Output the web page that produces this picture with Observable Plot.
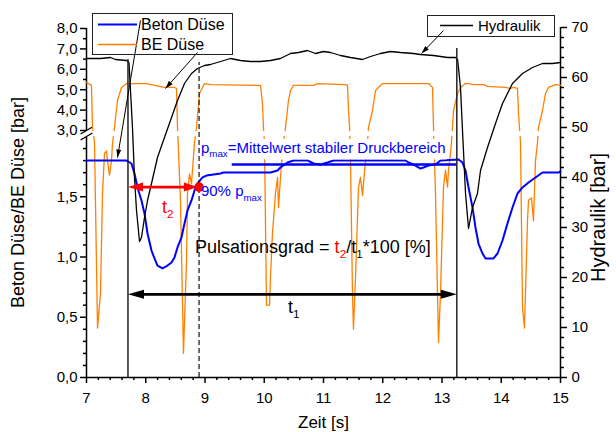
<!DOCTYPE html>
<html><head><meta charset="utf-8">
<script src="https://cdn.jsdelivr.net/npm/d3@7"></script>
<script src="https://cdn.jsdelivr.net/npm/@observablehq/plot@0.6"></script>
<style>
body{margin:0;background:#fff;}
#chart{position:relative;width:616px;height:432px;}
</style></head><body><div id="chart"></div>
<script>
// ---------- data ----------
const hydT = [7.0,7.236,7.405,7.49,7.675,7.717,7.776,7.810,7.844,7.895,7.928,7.979,8.030,8.097,8.198,8.316,8.435,8.536,8.654,8.772,8.873,8.992,9.093,9.262,9.430,9.599,9.768,9.937,10.105,10.274,10.443,10.578,10.730,10.865,11.0,11.118,11.287,11.456,11.658,11.793,11.962,12.131,12.300,12.519,12.637,12.857,13.093,13.228,13.262,13.278,13.312,13.346,13.397,13.448,13.515,13.599,13.650,13.768,13.903,14.021,14.190,14.359,14.527,14.696,14.865,15.0];
const hydP = [63.8,63.8,64.0,63.6,63.4,63.0,50.0,40.0,33.4,27.2,28.0,32.0,35.4,38.8,44.0,48.0,52.0,55.4,58.8,60.8,61.8,62.4,62.6,63.2,63.8,63.4,63.2,63.2,63.4,63.8,64.8,65.0,65.4,64.8,65.2,65.0,64.4,64.0,63.6,64.2,64.8,65.2,65.0,64.8,64.6,64.4,64.0,64.0,63.6,62.0,58.0,49.4,36.8,29.8,34.0,36.8,41.4,46.0,50.8,54.8,58.8,60.8,62.0,62.8,62.8,63.0];

const betonT = [7.0,7.675,7.759,7.810,7.861,7.928,7.979,8.030,8.097,8.148,8.198,8.283,8.367,8.435,8.485,8.536,8.603,8.654,8.705,8.772,8.823,8.873,8.958,9.025,9.262,9.312,10.105,10.224,10.274,10.392,10.494,10.730,10.831,10.949,11.068,11.169,12.384,12.435,12.553,12.637,12.688,12.772,12.890,12.975,13.278,13.346,13.397,13.448,13.515,13.565,13.616,13.684,13.734,13.869,13.937,14.021,14.105,14.190,14.274,14.359,14.460,14.578,14.696,14.966,15.0];
const betonP = [1.80,1.80,1.776,1.693,1.577,1.469,1.361,1.195,1.054,0.988,0.929,0.905,0.929,0.954,0.996,1.079,1.162,1.278,1.386,1.469,1.552,1.610,1.660,1.676,1.693,1.701,1.701,1.718,1.743,1.784,1.801,1.801,1.776,1.768,1.784,1.801,1.801,1.784,1.759,1.734,1.743,1.759,1.768,1.801,1.809,1.784,1.718,1.577,1.411,1.245,1.112,1.029,0.988,0.988,1.029,1.137,1.278,1.411,1.527,1.577,1.618,1.660,1.701,1.701,1.71];

const beT = [7.000,7.084,7.101,7.135,7.186,7.236,7.270,7.304,7.338,7.354,7.388,7.422,7.439,7.473,7.523,7.591,7.675,8.013,8.316,8.485,8.519,8.536,8.586,8.637,8.688,8.705,8.738,8.772,8.789,8.823,8.857,8.907,8.992,9.1,9.937,9.970,9.987,10.004,10.038,10.089,10.105,10.139,10.190,10.224,10.241,10.274,10.308,10.325,10.359,10.409,10.443,10.494,10.831,10.899,11.371,11.405,11.422,11.440,11.456,11.489,11.506,11.540,11.591,11.624,11.658,11.675,11.709,11.743,11.759,11.827,11.878,11.996,12.772,12.840,12.857,12.890,12.924,12.941,12.975,13.025,13.059,13.093,13.110,13.143,13.160,13.177,13.194,13.262,13.312,13.397,13.448,13.532,13.700,13.768,14.072,14.156,14.207,14.274,14.291,14.308,14.325,14.359,14.392,14.443,14.460,14.511,14.544,14.578,14.612,14.629,14.696,14.747,14.797,14.916,15.000];
const beP = [5.35,5.21,3.15,1.95,0.41,0.70,1.53,1.86,1.88,1.80,1.68,1.80,1.94,3.15,4.47,5.11,5.30,5.30,5.11,5.11,5.06,3.15,1.47,0.20,0.97,1.53,1.69,1.61,1.72,1.95,3.15,4.81,5.30,5.25,5.21,4.32,3.15,1.95,0.60,0.60,0.83,1.20,1.53,1.66,1.41,1.66,1.86,1.95,3.15,4.47,4.96,5.21,5.21,5.30,5.25,5.21,3.98,3.15,1.80,0.70,0.40,0.83,1.58,1.66,1.51,1.61,1.80,1.95,3.15,3.98,4.96,5.30,5.30,5.11,3.15,1.53,0.70,0.29,0.70,1.58,1.72,1.58,1.72,1.86,1.95,3.15,3.98,4.81,5.11,5.30,5.30,5.25,5.25,5.16,5.11,5.06,5.11,5.06,3.83,3.15,1.95,0.58,0.41,1.30,1.47,1.49,1.30,1.80,1.95,3.15,3.98,4.81,5.11,5.25,5.21];

// tick labels
const xTicks = [7,8,9,10,11,12,13,14,15];
const leftTicksLow = [0,0.5,1.0,1.5];
const leftTicksHigh = [3,4,5,6,7,8];
const rightTicks = [0,10,20,30,40,50,60,70];

// annotation values
const cycleMarks = [7.7, 13.25];        // t1 start/end [s]
const cycleTops = [63.6, 65.8];         // Hydraulik level where the marker starts
const t2End = 8.9;                      // time of 90% pmax
const t2Top = 63.0;
const pmax = 1.768;                     // mean of stable pressure range [bar]
const pmaxFrom = 9.46;
const p90 = 1.58;                       // 90% pmax
const t1Level = 0.69;

// ---------- broken left axis mapping onto right-axis units ----------
const LOW_MAX = 2.0, HIGH_MIN = 3.0, HIGH_MAX = 8.0;
const H_LO = 48.2, H_UP = 49.4, H_TOP = 69.8;
function toH(v){
  if (v <= LOW_MAX) return v / LOW_MAX * H_LO;
  if (v >= HIGH_MIN) return H_UP + (v - HIGH_MIN) / (HIGH_MAX - HIGH_MIN) * (H_TOP - H_UP);
  return H_LO + (v - LOW_MAX) / (HIGH_MIN - LOW_MAX) * (H_UP - H_LO);
}
function fromH(h){
  if (h <= H_LO + 1e-9) return h / H_LO * LOW_MAX;
  return HIGH_MIN + (h - H_UP) / (H_TOP - H_UP) * (HIGH_MAX - HIGH_MIN);
}
function splitBreak(ts, vs){
  const out = [];
  for (let i = 0; i < ts.length; i++){
    if (i > 0){
      const a = vs[i-1], b = vs[i];
      const aUp = a >= HIGH_MIN, bUp = b >= HIGH_MIN;
      if (aUp !== bUp){
        const ha = toH(a), hb = toH(b);
        const tAt = h => ts[i-1] + (ts[i]-ts[i-1]) * (h - ha) / (hb - ha);
        const h1 = aUp ? H_UP : H_LO, h2 = aUp ? H_LO : H_UP;
        out.push({t: tAt(h1), h: h1});
        out.push({t: tAt((h1+h2)/2), h: NaN});
        out.push({t: tAt(h2), h: h2});
      }
    }
    out.push({t: ts[i], h: toH(vs[i])});
  }
  return out;
}

const hyd = hydT.map((t,i) => ({t, h: hydP[i]}));
const beton = betonT.map((t,i) => ({t, h: toH(betonP[i])}));
const be = splitBreak(beT, beP);

const BLUE = "#0000FF", ORANGE = "#FF8000", RED = "#FF0000";
const FONT = "'Liberation Sans', Arial, Helvetica, sans-serif";
const W = 616, HGT = 432, ML = 86, MR = 56, MT = 27, MB = 55;
const X = d3.scaleLinear([7,15],[ML, W-MR]);
const Y = d3.scaleLinear([0,70],[HGT-MB, MT]);

function headSymbol(angle, len, wid){
  const c = Math.cos(angle), s = Math.sin(angle);
  const pts = [[0,0],[-len,-wid/2],[-len,wid/2]].map(([a,b]) => [a*c - b*s, a*s + b*c]);
  return {draw(ctx){ ctx.moveTo(pts[0][0],pts[0][1]); ctx.lineTo(pts[1][0],pts[1][1]); ctx.lineTo(pts[2][0],pts[2][1]); ctx.closePath(); }};
}
function head(x1,h1,x2,h2,color,len,wid){
  const ang = Math.atan2(Y(h2)-Y(h1), X(x2)-X(x1));
  return Plot.dot([{t:x2,h:h2}], {x:"t", y:"h", symbol: headSymbol(ang,len,wid), fill: color});
}

const leaders = [
  {x1: 7.911, y1: 71.4, x2: 7.523, y2: 44.0},
  {x1: 8.873, y1: 65.0, x2: 8.333, y2: 57.8},
  {x1: 13.025, y1: 69.4, x2: 12.654, y2: 64.8}
];

const minorX = d3.range(0, 41).map(i => 7 + i*0.2).filter(v => Math.abs(v - Math.round(v)) > 1e-6);
const minorLow = d3.range(0, 20).map(i => i*0.1).filter(v => Math.abs(v*2 - Math.round(v*2)) > 1e-6);
const minorHigh = [3.5,4.5,5.5,6.5,7.5];
const minorRight = d3.range(0, 71, 2).filter(v => v % 10 !== 0);
const fmt = v => v.toFixed(1).replace(".", ",");

const plot = Plot.plot({
  width: W, height: HGT,
  marginLeft: ML, marginRight: MR, marginTop: MT, marginBottom: MB,
  x: {domain: [7,15]},
  y: {domain: [0,70]},
  style: {fontFamily: FONT, fontSize: "15px", background: "white", color: "black"},
  marks: [
    // axes lines
    Plot.ruleY([0], {x1: 7, x2: 15, strokeWidth: 1.5}),
    Plot.ruleX([15], {y1: 0, y2: 70, strokeWidth: 1.5}),
    Plot.ruleX([7], {y1: 0, y2: H_LO, strokeWidth: 1.5}),
    Plot.ruleX([7], {y1: H_UP, y2: H_TOP, strokeWidth: 1.5}),
    Plot.link([H_LO, H_UP], {x1: 6.9, x2: 7.1, y1: h => h - 0.7, y2: h => h + 0.7, strokeWidth: 1.3}),
    // ticks
    Plot.axisX(xTicks, {anchor: "bottom", tickSize: 6, tickPadding: 9, strokeWidth: 1.5, label: null}),
    Plot.axisX(minorX, {anchor: "bottom", tickSize: 3, strokeWidth: 1.5, tickFormat: () => "", label: null}),
    Plot.axisY([...leftTicksLow, ...leftTicksHigh].map(toH), {anchor: "left", tickSize: 6, tickPadding: 3, strokeWidth: 1.5, tickFormat: h => fmt(fromH(h)), label: null}),
    Plot.axisY([...minorLow, ...minorHigh].map(toH), {anchor: "left", tickSize: 3, strokeWidth: 1.5, tickFormat: () => "", label: null}),
    Plot.axisY(rightTicks, {anchor: "right", tickSize: 6, tickPadding: 5, strokeWidth: 1.5, label: null}),
    Plot.axisY(minorRight, {anchor: "right", tickSize: 3, strokeWidth: 1.5, tickFormat: () => "", label: null}),
    // axis titles
    Plot.text(["Beton Düse/BE Düse [bar]"], {text: d => d, frameAnchor: "left", textAnchor: "middle", lineAnchor: "middle", dx: -68, rotate: -90, fontSize: 18}),
    Plot.text(["Hydraulik [bar]"], {text: d => d, frameAnchor: "right", textAnchor: "middle", lineAnchor: "middle", dx: 38, dy: 15, rotate: -90, fontSize: 20}),
    Plot.text(["Zeit [s]"], {text: d => d, frameAnchor: "bottom", textAnchor: "middle", lineAnchor: "middle", dy: 45, fontSize: 17}),
    // series
    Plot.line(be, {x: "t", y: "h", stroke: ORANGE, strokeWidth: 1.3}),
    Plot.line(beton, {x: "t", y: "h", stroke: BLUE, strokeWidth: 2}),
    Plot.ruleY([pmax], {y: toH, x1: pmaxFrom, x2: cycleMarks[1], stroke: BLUE, strokeWidth: 2.5}),
    Plot.line(hyd, {x: "t", y: "h", stroke: "black", strokeWidth: 1.3}),
    // markers
    Plot.ruleX(cycleMarks.map((t,i) => ({t, top: cycleTops[i]})), {x: "t", y1: 0, y2: "top", stroke: "#222", strokeWidth: 1.5}),
    Plot.ruleX([{t: t2End, top: t2Top}], {x: "t", y1: 0, y2: "top", stroke: "#222", strokeWidth: 1.3, strokeDasharray: "5,3"}),
    // t1 arrow
    Plot.ruleY([t1Level], {y: toH, x1: cycleMarks[0] + 0.2, x2: cycleMarks[1] - 0.2, stroke: "black", strokeWidth: 2.6}),
    head(cycleMarks[1], toH(t1Level), cycleMarks[0], toH(t1Level), "black", 16, 9),
    head(cycleMarks[0], toH(t1Level), cycleMarks[1], toH(t1Level), "black", 16, 9),
    // t2 arrow
    Plot.ruleY([p90], {y: toH, x1: cycleMarks[0] + 0.2, x2: t2End - 0.2, stroke: RED, strokeWidth: 2.6}),
    head(t2End, toH(p90), cycleMarks[0], toH(p90), RED, 15, 9),
    head(cycleMarks[0], toH(p90), t2End - 0.02, toH(p90), RED, 14, 9),
    Plot.dot([{t: t2End, h: toH(p90)}], {x: "t", y: "h", r: 4.8, fill: RED}),
    // leaders
    Plot.link(leaders, {x1: "x1", y1: "y1", x2: "x2", y2: "y2", stroke: "black", strokeWidth: 1}),
    ...leaders.map(l => head(l.x1, l.y1, l.x2, l.y2, "black", 8, 5))
  ]
});
document.getElementById("chart").appendChild(plot);

// ---------- rich-text annotations & legend ----------
const svg = d3.select(plot);
const g = svg.append("g").attr("font-family", FONT).attr("text-anchor", "start");
function rich(t, h, parts, size, color, bg){
  const el = g.append("text").attr("x", X(t)).attr("y", Y(h)).attr("font-size", size).attr("fill", color);
  let prevSub = false;
  parts.forEach(p => {
    const ts = el.append("tspan").text(p.s);
    if (p.c) ts.attr("fill", p.c);
    if (p.sub){ ts.attr("font-size", size*0.65).attr("dy", size*0.3); prevSub = true; }
    else if (prevSub){ ts.attr("dy", -size*0.3); prevSub = false; }
  });
  if (bg){
    const b = el.node().getBBox();
    g.insert("rect", () => el.node()).attr("x", b.x - 1).attr("y", b.y).attr("width", b.width + 2).attr("height", b.height).attr("fill", "white");
  }
}
rich(8.94, toH(1.86), [{s:"p"},{s:"max",sub:true},{s:"=Mittelwert stabiler Druckbereich"}], 15, BLUE, true);
rich(8.94, toH(1.502), [{s:"90% p"},{s:"max",sub:true}], 15, BLUE, false);
rich(8.283, toH(1.361), [{s:"t"},{s:"2",sub:true}], 18, RED, false);
rich(10.41, toH(0.531), [{s:"t"},{s:"1",sub:true}], 18, "black", false);
rich(8.84, toH(1.029), [{s:"Pulsationsgrad = "},{s:"t",c:RED},{s:"2",sub:true,c:RED},{s:"/t"},{s:"1",sub:true},{s:"*100 [%]"}], 18, "black", false);

// legends
function legendBox(x, y, w, h, items, size){
  const lg = g.append("g");
  lg.append("rect").attr("x", x+0.5).attr("y", y+0.5).attr("width", w).attr("height", h).attr("fill", "none").attr("stroke", "#222").attr("stroke-width", 1);
  items.forEach(it => {
    lg.append("line").attr("x1", it.lx1).attr("x2", it.lx2).attr("y1", it.ly).attr("y2", it.ly).attr("stroke", it.color).attr("stroke-width", it.w);
    lg.append("text").attr("x", it.tx).attr("y", it.ly + size*0.36).attr("font-size", size).text(it.label);
  });
}
legendBox(92, 13, 140, 41, [
  {label: "Beton Düse", color: BLUE, w: 2, lx1: 98, lx2: 137, ly: 24.5, tx: 141},
  {label: "BE Düse", color: ORANGE, w: 1.5, lx1: 98, lx2: 137, ly: 44.5, tx: 141}
], 16);
legendBox(427, 15, 127, 21, [
  {label: "Hydraulik", color: "black", w: 1.3, lx1: 440, lx2: 473, ly: 25.5, tx: 478}
], 15);
</script></body></html>
